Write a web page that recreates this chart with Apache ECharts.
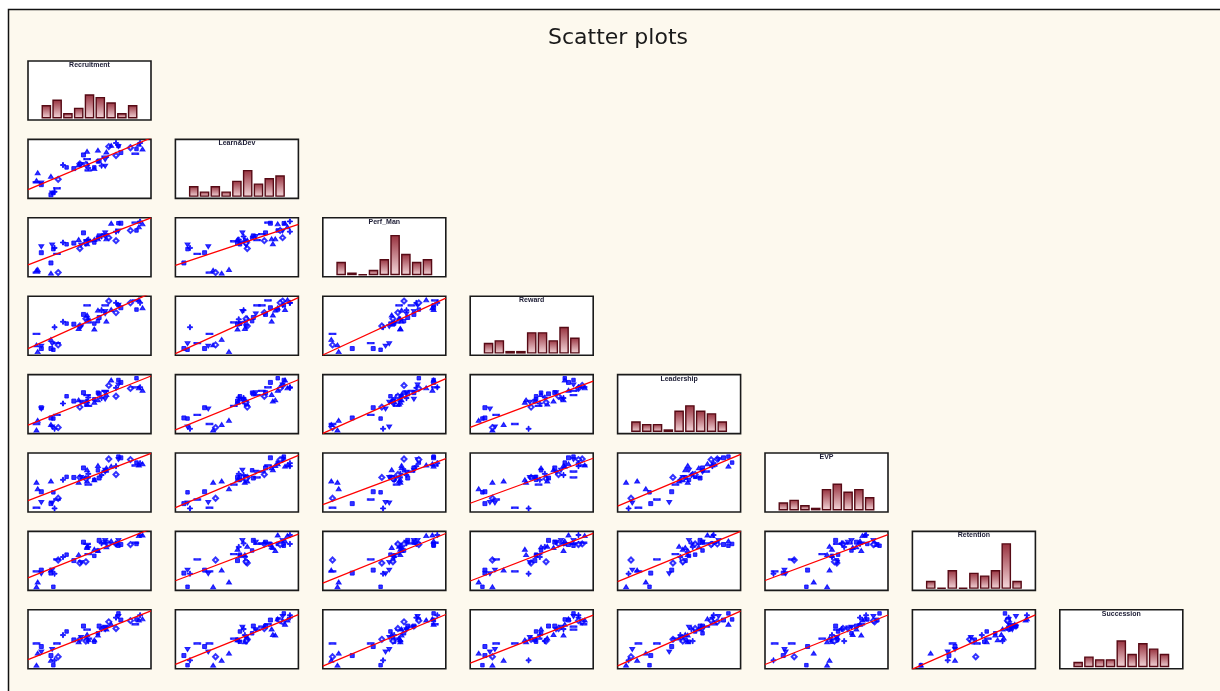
<!DOCTYPE html>
<html>
<head>
<meta charset="utf-8">
<title>Scatter plots</title>
<script src="https://cdn.jsdelivr.net/npm/echarts@6/dist/echarts.min.js"></script>
<style>
  html, body { margin: 0; padding: 0; background: #ffffff; }
  #chart { width: 1220px; height: 691px; }
</style>
</head>
<body>
<div id="chart"></div>
<script>
// Survey index scores (0-100) for 48 respondents, one array per HR dimension.
const variables = ['Recruitment', 'Learn&Dev', 'Perf_Man', 'Reward', 'Leadership', 'EVP', 'Retention', 'Succession'];

const recruitment = [23, 11, 24, 11, 25, 29, 12, 26, 15, 23, 15, 28,
                     59, 47, 59, 33, 42, 53, 48, 54, 36, 52, 46, 54,
                     63, 53, 68, 53, 62, 77, 69, 65, 50, 62, 68, 68,
                     94, 71, 99, 77, 81, 96, 79, 93, 79, 89, 73, 97];
const learnDev    = [12, 36, 15, 33, 15, 38, 49, 17, 29, 43, 32, 23,
                     58, 64, 56, 62, 56, 64, 63, 53, 58, 63, 62, 57,
                     69, 85, 60, 72, 68, 78, 84, 61, 79, 87, 71, 76,
                     89, 93, 89, 99, 83, 97, 93, 81, 94, 91, 95, 99];
const perfMan     = [29, 17, 59, 13, 52, 13, 18, 54, 46, 12, 56, 44,
                     63, 53, 68, 63, 62, 67, 59, 65, 60, 62, 68, 68,
                     74, 61, 79, 67, 71, 66, 69, 73, 79, 69, 73, 77,
                     83, 71, 94, 81, 95, 89, 82, 96, 95, 83, 95, 98];
const reward      = [18, 24, 26, 42, 16, 24, 13, 53, 18, 33, 22, 27,
                     59, 55, 50, 62, 58, 68, 54, 61, 59, 67, 51, 66,
                     69, 73, 79, 89, 63, 77, 63, 81, 74, 81, 75, 89,
                     82, 96, 85, 93, 85, 98, 89, 97, 89, 93, 82, 93];
const leadership  = [33, 13, 18, 23, 32, 17, 29, 15, 50, 22, 48, 38,
                     64, 51, 59, 57, 61, 56, 59, 53, 69, 59, 63, 67,
                     73, 61, 64, 71, 75, 69, 72, 66, 75, 63, 75, 78,
                     99, 87, 79, 83, 92, 83, 88, 84, 96, 82, 96, 84];
const evp         = [19, 55, 20, 12, 38, 28, 44, 11, 39, 57, 21, 26,
                     59, 63, 59, 59, 63, 57, 63, 51, 64, 61, 55, 69,
                     62, 76, 75, 63, 75, 68, 79, 67, 79, 83, 72, 73,
                     88, 94, 86, 82, 96, 84, 93, 83, 98, 93, 82, 87];
const retention   = [34, 11, 39, 37, 11, 56, 19, 33, 39, 39, 33, 57,
                     63, 51, 74, 61, 55, 79, 52, 66, 65, 53, 65, 78,
                     89, 77, 89, 83, 72, 83, 78, 84, 86, 72, 86, 84,
                     83, 83, 98, 83, 82, 97, 89, 85, 80, 82, 88, 98];
const succession  = [29, 13, 39, 49, 13, 27, 33, 21, 44, 21, 35, 49,
                     52, 56, 55, 63, 55, 58, 59, 57, 69, 53, 52, 53,
                     78, 64, 76, 72, 66, 74, 73, 73, 78, 63, 72, 77,
                     89, 85, 90, 92, 88, 88, 94, 81, 99, 87, 81, 96];

// Histogram bin edges shared by every dimension.
const binEdges = [10, 20, 30, 40, 50, 60, 70, 80, 90, 100];

const columns = [recruitment, learnDev, perfMan, reward, leadership, evp, retention, succession];

// Panel geometry of the lower-triangular matrix.
const PANEL = { left0: 28, top0: 61, colStep: 147.4, rowStep: 78.4, w: 123, h: 59 };

const markerShapes = [
  { symbol: 'rect', size: [4, 4] },
  { symbol: 'triangle', size: [5, 4] },
  { symbol: 'path://M0,0L10,0L5,9Z', size: [5, 4] },
  { symbol: 'path://M0,0H10V2H0Z', size: [6, 1.8] },
  { symbol: 'rect', size: [3.5, 3.5] },
  { symbol: 'emptyDiamond', size: [5, 5] },
  { symbol: 'triangle', size: [5, 4] },
  { symbol: 'path://M4,0H6V4H10V6H6V10H4V6H0V4H4Z', size: [5, 5] }
];

function histogram(values) {
  const counts = new Array(binEdges.length - 1).fill(0);
  values.forEach(v => {
    let k = counts.length - 1;
    for (let i = 0; i < counts.length; i++) {
      if (v >= binEdges[i] && v < binEdges[i + 1]) { k = i; break; }
    }
    counts[k]++;
  });
  return counts;
}

function extent(values, frac) {
  const lo = Math.min(...values), hi = Math.max(...values);
  const pad = (hi - lo) * frac;
  return [lo - pad, hi + pad];
}

function fitLine(xs, ys) {
  const n = xs.length;
  const mx = xs.reduce((a, b) => a + b, 0) / n;
  const my = ys.reduce((a, b) => a + b, 0) / n;
  let sxy = 0, sxx = 0;
  for (let i = 0; i < n; i++) { sxy += (xs[i] - mx) * (ys[i] - my); sxx += (xs[i] - mx) ** 2; }
  const slope = sxy / sxx;
  return { slope, intercept: my - slope * mx };
}

const grids = [], xAxes = [], yAxes = [], series = [];
const titles = [{
  text: 'Scatter plots',
  left: 618, top: 27, textAlign: 'center', padding: 0,
  textStyle: { fontFamily: 'DejaVu Sans', fontSize: 22, fontWeight: 'normal', color: '#1a1a1a' }
}];

let g = 0;
for (let row = 0; row < variables.length; row++) {
  for (let col = 0; col <= row; col++) {
    const left = PANEL.left0 + col * PANEL.colStep;
    const top = PANEL.top0 + row * PANEL.rowStep;
    grids.push({
      left, top, width: PANEL.w, height: PANEL.h,
      show: true, backgroundColor: '#ffffff', borderColor: '#1a1a1a', borderWidth: 1.6
    });

    if (row === col) {
      // Diagonal: histogram of the dimension.
      const counts = histogram(columns[col]);
      xAxes.push({ gridIndex: g, type: 'value', min: -1.2, max: 10.2, show: false });
      yAxes.push({ gridIndex: g, type: 'value', min: -0.6, max: 21.4, show: false });
      series.push({
        type: 'bar', xAxisIndex: g, yAxisIndex: g,
        data: counts.map((c, k) => [k + 0.5, c]),
        barWidth: 9.6, barMinHeight: 1,
        itemStyle: {
          borderColor: '#560a15', borderWidth: 1.4,
          color: new echarts.graphic.LinearGradient(0, 0, 0, 1, [
            { offset: 0, color: '#962f3c' },
            { offset: 1, color: '#f5d9dc' }
          ])
        },
        silent: true
      });
      titles.push({
        text: variables[col],
        left: left + PANEL.w / 2, top: top + 0.5, textAlign: 'center', padding: 0,
        textStyle: { fontFamily: 'Liberation Sans', fontSize: 7, fontWeight: 'bold', color: '#1b1b33' }
      });
    } else {
      // Off-diagonal: scatter of row dimension against column dimension with a least-squares line.
      const xs = columns[col], ys = columns[row];
      const xr = extent(xs, 0.08), yr = extent(ys, 0.07);
      xAxes.push({ gridIndex: g, type: 'value', min: xr[0], max: xr[1], show: false });
      yAxes.push({ gridIndex: g, type: 'value', min: yr[0], max: yr[1], show: false });
      series.push({
        type: 'scatter', xAxisIndex: g, yAxisIndex: g,
        data: xs.map((x, i) => {
          const m = markerShapes[i % markerShapes.length];
          return { value: [x, ys[i]], symbol: m.symbol, symbolSize: m.size };
        }),
        itemStyle: { color: '#0000ff', borderColor: '#0000ff' },
        silent: true, z: 3
      });
      const fit = fitLine(xs, ys);
      series.push({
        type: 'line', xAxisIndex: g, yAxisIndex: g,
        data: [[xr[0], fit.intercept + fit.slope * xr[0]], [xr[1], fit.intercept + fit.slope * xr[1]]],
        showSymbol: false, symbol: 'none', clip: true,
        lineStyle: { color: '#ff0000', width: 1.3 },
        silent: true, z: 4
      });
    }
    g++;
  }
}

const chart = echarts.init(document.getElementById('chart'), null, { renderer: 'canvas' });
chart.setOption({
  animation: false,
  backgroundColor: '#ffffff',
  title: titles,
  grid: grids,
  xAxis: xAxes,
  yAxis: yAxes,
  series: series,
  graphic: [{
    type: 'rect', z: -100, silent: true,
    shape: { x: 8.5, y: 9.5, width: 1220, height: 690 },
    style: { fill: '#fdf9ee', stroke: '#111111', lineWidth: 1.5 }
  }]
});
</script>
</body>
</html>
